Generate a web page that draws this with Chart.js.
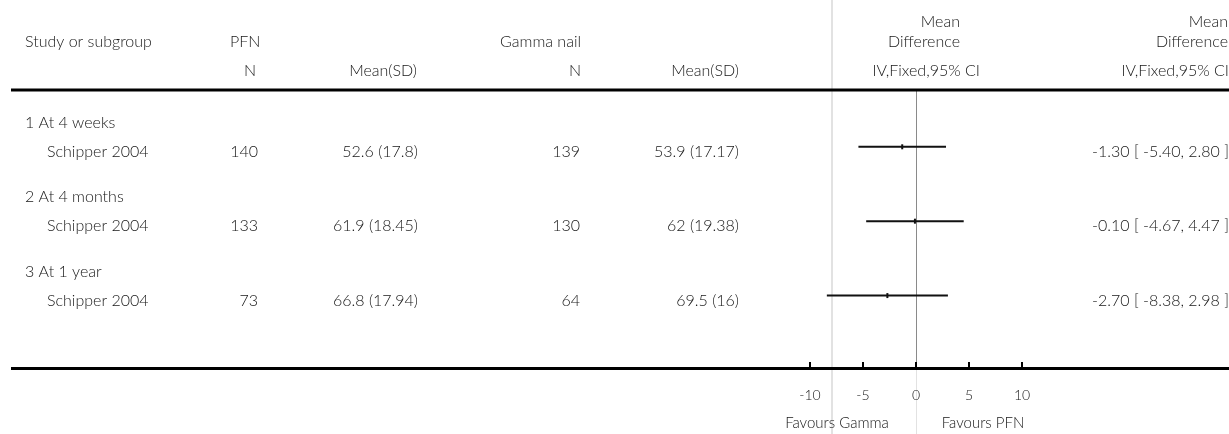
<!DOCTYPE html>
<html>
<head>
<meta charset="utf-8">
<script src="https://cdn.jsdelivr.net/npm/chart.js@4.4.1/dist/chart.umd.min.js"></script>
<style>
html,body{margin:0;padding:0;background:#fff;}
#wrap{width:1229px;height:434px;position:relative;}
</style>
</head>
<body>
<div id="wrap"><canvas id="c" width="1229" height="434"></canvas></div>
<script>
// ---- data ----
const subgroups = ['1 At 4 weeks', '2 At 4 months', '3 At 1 year'];
const studies = ['Schipper 2004', 'Schipper 2004', 'Schipper 2004'];
const rows = [1, 2, 3];
const pfnN = [140, 133, 73];
const pfnMeanSD = ['52.6 (17.8)', '61.9 (18.45)', '66.8 (17.94)'];
const gammaN = [139, 130, 64];
const gammaMeanSD = ['53.9 (17.17)', '62 (19.38)', '69.5 (16)'];
const md = [-1.30, -0.10, -2.70];
const ciLow = [-5.40, -4.67, -8.38];
const ciHigh = [2.80, 4.47, 2.98];
const xTicks = [-10, -5, 0, 5, 10];
const favourLeft = 'Favours Gamma';
const favourRight = 'Favours PFN';

const FAMILY = 'Lato, "Open Sans", sans-serif';
const FONT = '300 16px ' + FAMILY;
const TXT = '#161616';

const ciData = rows.map((r, i) => ({ y: r, x: [ciLow[i], ciHigh[i]] }));
const ptData = rows.map((r, i) => ({ y: r, x: md[i] }));

const tablePlugin = {
  id: 'table',
  beforeDraw(chart) {
    const ctx = chart.ctx;
    const xs = chart.scales.x;
    const ca = chart.chartArea;
    ctx.save();
    // faint vertical guide line
    ctx.strokeStyle = '#e2e2e2';
    ctx.lineWidth = 2;
    ctx.beginPath(); ctx.moveTo(832, 0); ctx.lineTo(832, 434); ctx.stroke();
    // zero line
    const x0 = Math.round(xs.getPixelForValue(0)) + 0.5;
    ctx.strokeStyle = '#8a8a8a';
    ctx.lineWidth = 1;
    ctx.beginPath(); ctx.moveTo(x0, ca.top); ctx.lineTo(x0, ca.bottom); ctx.stroke();
    ctx.strokeStyle = '#e2e2e2';
    ctx.beginPath(); ctx.moveTo(x0, ca.bottom + 2); ctx.lineTo(x0, 434); ctx.stroke();
    ctx.restore();
  },
  afterDraw(chart) {
    const ctx = chart.ctx;
    const xs = chart.scales.x;
    const ys = chart.scales.y;
    const ca = chart.chartArea;
    ctx.save();
    // header rule and axis rule
    ctx.fillStyle = '#000';
    ctx.fillRect(11, 88.5, 1218, 3);
    ctx.fillRect(11, ca.bottom, 1218, 3);
    // axis tick marks
    xTicks.forEach(v => {
      const px = Math.round(xs.getPixelForValue(v));
      ctx.fillRect(px - 1, ca.bottom - 5, 2, 5);
    });
    ctx.font = FONT;
    ctx.fillStyle = TXT;
    ctx.textBaseline = 'middle';
    const t = (s, x, y, al) => { ctx.textAlign = al || 'left'; ctx.fillText(s, x, y); };
    // headers
    t('Study or subgroup', 25, 42);
    t('PFN', 230, 42);
    t('Gamma nail', 581, 42, 'right');
    t('N', 256, 71, 'right');
    t('Mean(SD)', 417, 71, 'right');
    t('N', 581, 71, 'right');
    t('Mean(SD)', 739, 71, 'right');
    t('Mean', 960, 22, 'right');
    t('Difference', 960, 42, 'right');
    t('IV,Fixed,95% CI', 980, 71, 'right');
    t('Mean', 1228, 22, 'right');
    t('Difference', 1228, 42, 'right');
    t('IV,Fixed,95% CI', 1229, 71, 'right');
    // rows
    rows.forEach((r, i) => {
      const py = ys.getPixelForValue(r);
      t(subgroups[i], 25, py - 24);
      t(studies[i], 47, py + 5);
      t(String(pfnN[i]), 258, py + 5, 'right');
      t(pfnMeanSD[i], 418, py + 5, 'right');
      t(String(gammaN[i]), 580, py + 5, 'right');
      t(gammaMeanSD[i], 739, py + 5, 'right');
      const eff = md[i].toFixed(2) + ' [ ' + ciLow[i].toFixed(2) + ', ' + ciHigh[i].toFixed(2) + ' ]';
      t(eff, 1229, py + 5, 'right');
    });
    // favours
    ctx.font = '300 15px ' + FAMILY;
    t(favourLeft, 837, 423, 'center');
    t(favourRight, 983, 423, 'center');
    ctx.restore();
  }
};

new Chart(document.getElementById('c'), {
  data: {
    datasets: [
      {
        type: 'bar',
        indexAxis: 'y',
        data: ciData,
        backgroundColor: '#111',
        borderWidth: 0,
        barThickness: 1.3,
        grouped: false
      },
      {
        type: 'scatter',
        data: ptData,
        pointStyle: 'line',
        rotation: 90,
        radius: 2.5,
        borderWidth: 2,
        borderColor: '#111',
        backgroundColor: '#111'
      }
    ]
  },
  options: {
    responsive: false,
    animation: false,
    events: [],
    layout: { padding: { left: 810, right: 207, top: 91, bottom: 0 } },
    plugins: { legend: { display: false }, tooltip: { enabled: false } },
    scales: {
      x: {
        type: 'linear',
        min: -10, max: 10,
        afterFit(s) { s.height = 67; },
        afterBuildTicks(s) { s.ticks = xTicks.map(v => ({ value: v })); },
        grid: { display: false },
        border: { display: false },
        ticks: {
          color: TXT,
          font: { family: FAMILY, size: 14, weight: 300 },
          padding: 12,
          maxRotation: 0,
          callback: v => String(v)
        }
      },
      y: {
        type: 'linear',
        display: false,
        reverse: true,
        offset: false,
        min: 0.25, max: 3.96
      }
    }
  },
  plugins: [tablePlugin]
});
</script>
</body>
</html>
